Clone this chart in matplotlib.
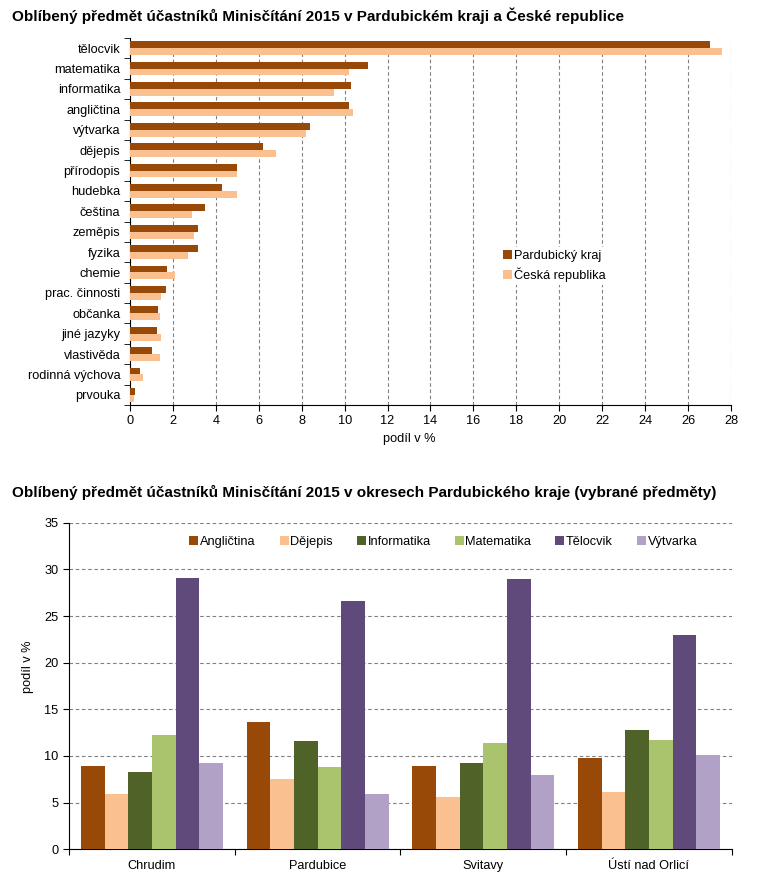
import matplotlib.pyplot as plt
import numpy as np

plt.rcParams['font.family'] = ['Liberation Sans', 'DejaVu Sans']
plt.rcParams['font.size'] = 9.2

# --- data, chart 1 ---
predmety = ["tělocvik", "matematika", "informatika", "angličtina", "výtvarka", "dějepis",
            "přírodopis", "hudebka", "čeština", "zeměpis", "fyzika", "chemie",
            "prac. činnosti", "občanka", "jiné jazyky", "vlastivěda", "rodinná výchova", "prvouka"]
pardubicky = [27.0, 11.1, 10.3, 10.2, 8.4, 6.2, 5.0, 4.3, 3.5, 3.15, 3.15, 1.72,
              1.66, 1.3, 1.26, 1.04, 0.47, 0.25]
cr = [27.6, 10.2, 9.5, 10.4, 8.2, 6.8, 5.0, 5.0, 2.9, 3.0, 2.7, 2.1,
      1.46, 1.41, 1.46, 1.41, 0.62, 0.19]

# --- data, chart 2 ---
okresy = ["Chrudim", "Pardubice", "Svitavy", "Ústí nad Orlicí"]
vybrane = ["Angličtina", "Dějepis", "Informatika", "Matematika", "Tělocvik", "Výtvarka"]
podily = {
    "Angličtina": [8.9, 13.6, 8.9, 9.8],
    "Dějepis": [5.9, 7.5, 5.6, 6.1],
    "Informatika": [8.3, 11.6, 9.3, 12.8],
    "Matematika": [12.3, 8.8, 11.4, 11.7],
    "Tělocvik": [29.1, 26.6, 29.0, 23.0],
    "Výtvarka": [9.3, 5.9, 8.0, 10.1],
}
barvy = ["#984807", "#FAC090", "#4F6228", "#A9C46D", "#604A7B", "#B2A1C7"]

dash = (0, (3.2, 2.4))
grid_col = "#808080"

fig = plt.figure(figsize=(7.62, 8.83), dpi=100)

# ---------------- chart 1 ----------------
ax1 = fig.add_axes([0.1706, 0.5413, 0.7887, 0.4157])
y = np.arange(len(predmety))
h = 0.34
ax1.barh(y - h / 2, pardubicky, height=h, color=barvy[0], label="Pardubický kraj", zorder=3)
ax1.barh(y + h / 2, cr, height=h, color=barvy[1], label="Česká republika", zorder=3)
ax1.set_ylim(len(predmety) - 0.5, -0.5)
ax1.set_xlim(0, 28)
ax1.set_xticks(np.arange(0, 29, 2))
ax1.set_yticks(y)
ax1.set_yticklabels(predmety)
ax1.set_yticks(np.arange(-0.5, len(predmety), 1), minor=True)
ax1.tick_params(axis="y", which="major", length=0, pad=7)
ax1.tick_params(axis="y", which="minor", length=4, direction="out")
ax1.tick_params(axis="x", length=4, direction="out")
ax1.xaxis.grid(True, linestyle=dash, color=grid_col, linewidth=0.8, zorder=0)
ax1.set_axisbelow(True)
for s in ["top", "right"]:
    ax1.spines[s].set_visible(False)
ax1.set_xlabel("podíl v %", labelpad=2)
ax1.xaxis.set_label_coords(0.465, -0.075)
ax1.legend(loc="center left", bbox_to_anchor=(0.606, 0.379), frameon=True,
           facecolor="white", edgecolor="none", framealpha=1,
           handlelength=0.7, handleheight=0.7, handletextpad=0.12,
           labelspacing=0.45, borderpad=0.2)

fig.text(12 / 762, 1 - 16 / 883, "Oblíbený předmět účastníků Minisčítání 2015 v Pardubickém kraji a České republice",
         fontsize=11, fontweight="bold", va="center", ha="left")

# ---------------- chart 2 ----------------
ax2 = fig.add_axes([0.0906, 0.0382, 0.8697, 0.3698])
x = np.arange(len(okresy)) + 0.5
w = 1 / 7
for i, (p, c) in enumerate(zip(vybrane, barvy)):
    ax2.bar(x + (i - 2.5) * w, podily[p], width=w, color=c, label=p, zorder=3)
ax2.set_xlim(0, len(okresy))
ax2.set_ylim(0, 35)
ax2.set_yticks(np.arange(0, 36, 5))
ax2.set_xticks(np.arange(0, len(okresy) + 1))
ax2.set_xticklabels([])
ax2.set_xticks(x, minor=True)
ax2.set_xticklabels(okresy, minor=True)
ax2.tick_params(axis="x", which="minor", length=0, pad=8)
ax2.tick_params(axis="x", which="major", length=4, direction="out")
ax2.tick_params(axis="y", length=4, direction="out")
ax2.yaxis.grid(True, linestyle=dash, color=grid_col, linewidth=0.8, zorder=0)
ax2.set_axisbelow(True)
for s in ["top", "right"]:
    ax2.spines[s].set_visible(False)
ax2.set_ylabel("podíl v %")
ax2.yaxis.set_label_coords(-0.053, 0.56)
ax2.legend(loc="center left", bbox_to_anchor=(0.168, 0.942), ncol=6, frameon=False,
           handlelength=0.7, handleheight=0.7, handletextpad=0.12,
           columnspacing=1.9, borderpad=0.2)

fig.text(12 / 762, 1 - 492 / 883, "Oblíbený předmět účastníků Minisčítání 2015 v okresech Pardubického kraje (vybrané předměty)",
         fontsize=11, fontweight="bold", va="center", ha="left")

fig.savefig("out.png", dpi=100)
